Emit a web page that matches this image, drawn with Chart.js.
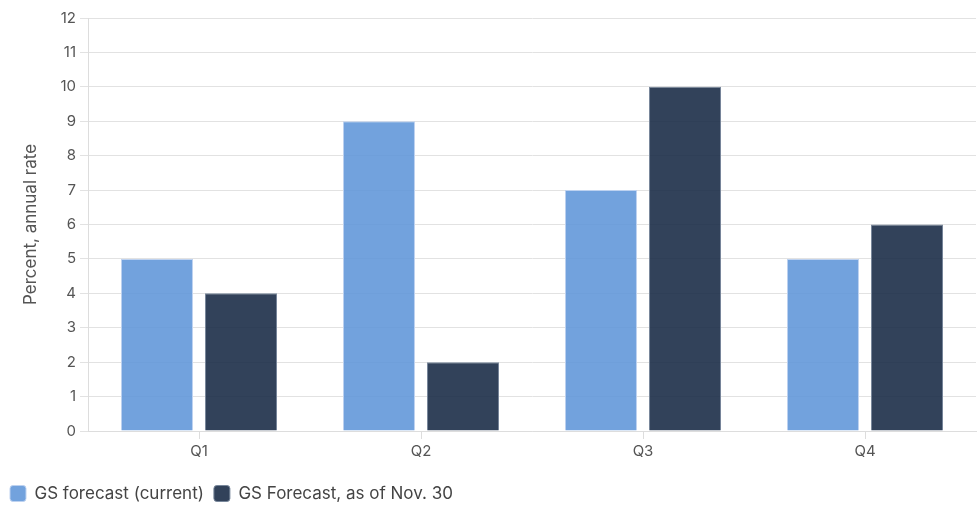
<!DOCTYPE html>
<html>
<head>
<meta charset="utf-8">
<script src="https://cdn.jsdelivr.net/npm/chart.js@4/dist/chart.umd.min.js"></script>
<style>
  html, body { margin: 0; padding: 0; background: #fff; }
  #wrap { width: 978px; height: 505px; }
</style>
</head>
<body>
<div id="wrap"><canvas id="gdpChart"></canvas></div>
<script>
// Chart data
const quarters = ['Q1', 'Q2', 'Q3', 'Q4'];
const gsCurrent = [5, 9, 7, 5];
const gsNov30 = [4, 2, 10, 6];
const seriesNames = ['GS forecast (current)', 'GS Forecast, as of Nov. 30'];

Chart.defaults.font.family = 'Inter, "Noto Sans", sans-serif';
Chart.defaults.color = '#555';

const ctx = document.getElementById('gdpChart').getContext('2d');
new Chart(ctx, {
    type: 'bar',
    data: {
        labels: quarters,
        datasets: [
            {
                label: seriesNames[0],
                data: gsCurrent,
                backgroundColor: 'rgba(95, 149, 216, 0.88)',
                borderColor: 'rgba(190, 210, 240, 1)',
                borderWidth: 1,
                categoryPercentage: 0.757,
                barPercentage: 0.857
            },
            {
                label: seriesNames[1],
                data: gsNov30,
                backgroundColor: 'rgba(28, 45, 72, 0.9)',
                borderColor: 'rgba(120, 135, 155, 1)',
                borderWidth: 1,
                categoryPercentage: 0.757,
                barPercentage: 0.857
            }
        ]
    },
    options: {
        responsive: true,
        maintainAspectRatio: false,
        animation: false,
        layout: { padding: { left: 0, right: 2, top: 18, bottom: -7 } },
        plugins: {
            legend: {
                position: 'bottom',
                align: 'start',
                labels: {
                    color: '#444',
                    boxWidth: 16,
                    boxHeight: 16,
                    useBorderRadius: true,
                    borderRadius: 3,
                    padding: 10,
                    font: { size: 17 }
                }
            },
            tooltip: { enabled: false }
        },
        scales: {
            x: {
                afterFit: function(scale) { scale.height = 44; },
                grid: {
                    offset: false,
                    drawOnChartArea: false,
                    color: '#ddd',
                    tickLength: 8
                },
                border: { color: '#ddd' },
                ticks: { color: '#555', font: { size: 15 }, padding: 3 }
            },
            y: {
                min: 0,
                max: 12,
                afterFit: function(scale) { scale.width = 88; },
                ticks: { stepSize: 1, color: '#555', font: { size: 15 }, padding: 4 },
                grid: { color: '#e2e2e2', tickLength: 8 },
                border: { color: '#ddd' },
                title: {
                    display: true,
                    text: 'Percent, annual rate',
                    color: '#555',
                    font: { size: 17 },
                    padding: { top: 21, bottom: 4 }
                }
            }
        }
    }
});
</script>
</body>
</html>
